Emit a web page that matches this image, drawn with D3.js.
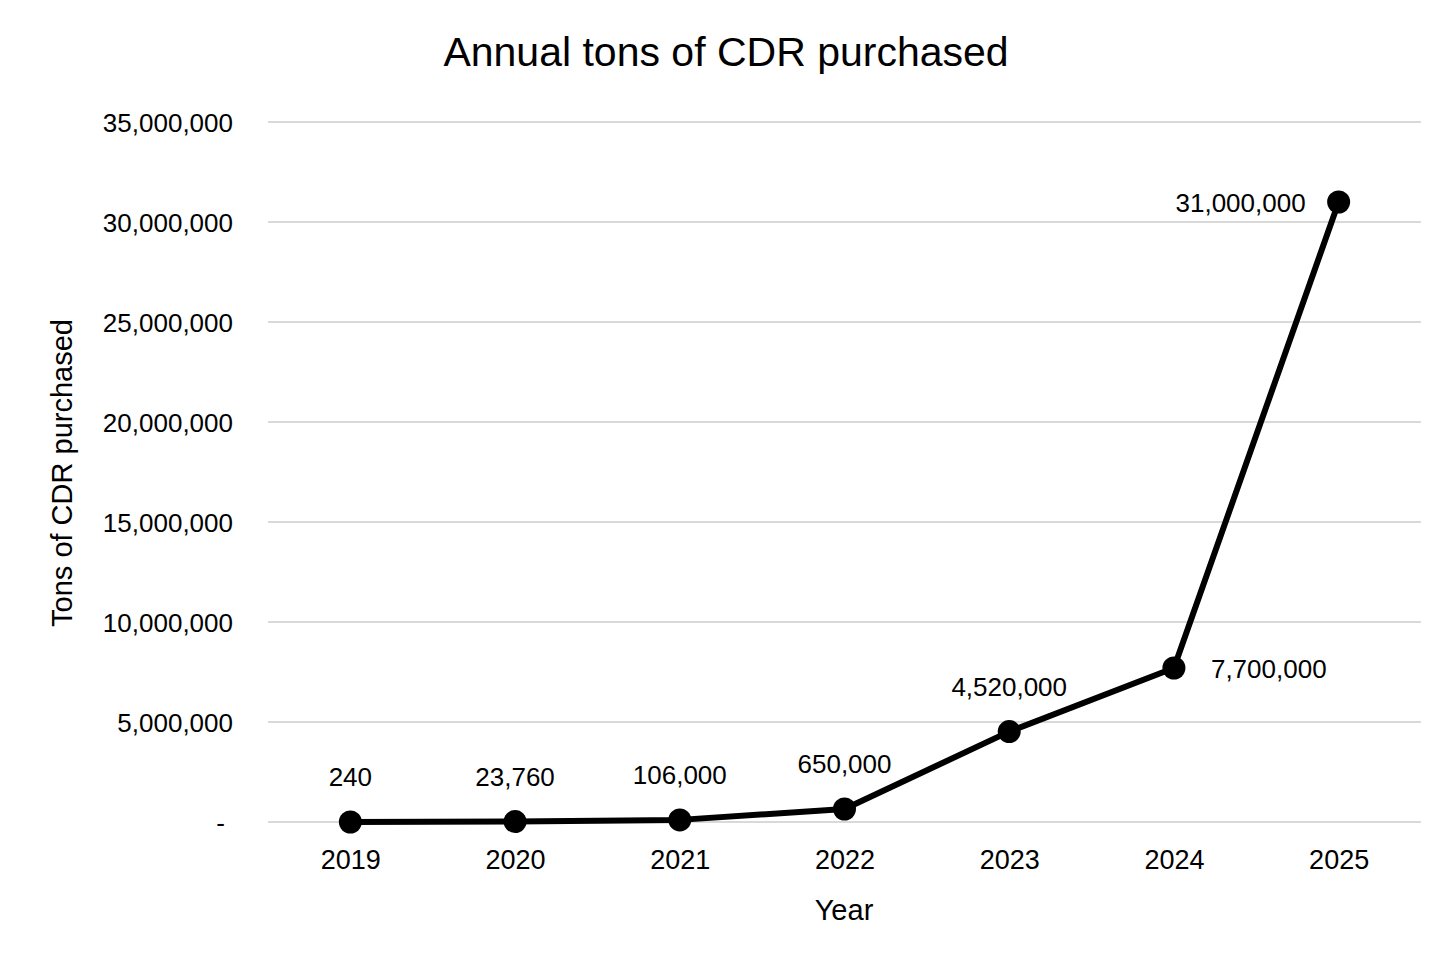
<!DOCTYPE html>
<html>
<head>
<meta charset="utf-8">
<script src="https://cdn.jsdelivr.net/npm/d3@7"></script>
<style>
  body { margin: 0; background: #fff; }
  text { font-family: "Liberation Sans", Arial, sans-serif; fill: #000; }
</style>
</head>
<body>
<svg width="1456" height="971"></svg>
<script>
var years = ["2019", "2020", "2021", "2022", "2023", "2024", "2025"];
var tons = [240, 23760, 106000, 650000, 4520000, 7700000, 31000000];
var yTicks = [0, 5000000, 10000000, 15000000, 20000000, 25000000, 30000000, 35000000];
// where each data label sits relative to its point
var labelPos = ["top", "top", "top", "top", "top", "right", "left"];

var svgWidth = 1456, svgHeight = 971;
var plotLeft = 268, plotRight = 1421, plotTop = 122, plotBottom = 822;

var svg = d3.select("svg")
    .attr("width", svgWidth)
    .attr("height", svgHeight);

var x = d3.scalePoint()
    .domain(years)
    .range([plotLeft, plotRight])
    .padding(0.5);

var y = d3.scaleLinear()
    .domain([0, 35000000])
    .range([plotBottom, plotTop]);

var fmt = d3.format(",");

// gridlines
svg.append("g")
    .selectAll("line")
    .data(yTicks)
    .enter()
    .append("line")
    .attr("x1", plotLeft)
    .attr("x2", plotRight)
    .attr("y1", function(d) { return y(d); })
    .attr("y2", function(d) { return y(d); })
    .attr("stroke", "#d9d9d9")
    .attr("stroke-width", 2);

// y axis labels
var yAxis = d3.axisLeft(y)
    .tickValues(yTicks)
    .tickSize(0)
    .tickPadding(0)
    .tickFormat(function(d) { return d === 0 ? "-" : fmt(d); });

var gy = svg.append("g")
    .attr("transform", "translate(233,0)")
    .call(yAxis);
gy.select(".domain").remove();
gy.selectAll("text")
    .style("font-size", "26px")
    .attr("dy", "0.35em")
    .attr("dx", function(d) { return d === 0 ? "-8px" : "0"; });

// x axis labels
var xAxis = d3.axisBottom(x).tickSize(0).tickPadding(0);
var gx = svg.append("g")
    .attr("transform", "translate(0,860)")
    .call(xAxis);
gx.select(".domain").remove();
gx.selectAll("text")
    .style("font-size", "27px")
    .attr("y", 0)
    .attr("dy", "0.35em");

// line
var line = d3.line()
    .x(function(d, i) { return x(years[i]); })
    .y(function(d) { return y(d); });

svg.append("path")
    .datum(tons)
    .attr("d", line)
    .attr("fill", "none")
    .attr("stroke", "#000")
    .attr("stroke-width", 6)
    .attr("stroke-linejoin", "round");

svg.selectAll("circle")
    .data(tons)
    .enter()
    .append("circle")
    .attr("cx", function(d, i) { return x(years[i]); })
    .attr("cy", function(d) { return y(d); })
    .attr("r", 11.5)
    .attr("fill", "#000");

// data labels
svg.append("g")
    .selectAll("text")
    .data(tons)
    .enter()
    .append("text")
    .text(function(d) { return fmt(d); })
    .style("font-size", "26px")
    .attr("x", function(d, i) {
        var p = labelPos[i];
        if (p === "right") return x(years[i]) + 37;
        if (p === "left") return x(years[i]) - 33;
        return x(years[i]);
    })
    .attr("y", function(d, i) {
        return labelPos[i] === "top" ? y(d) - 45 : y(d) + 1;
    })
    .attr("dy", "0.35em")
    .attr("text-anchor", function(d, i) {
        var p = labelPos[i];
        return p === "right" ? "start" : p === "left" ? "end" : "middle";
    });

// titles
svg.append("text")
    .text("Annual tons of CDR purchased")
    .attr("x", 726)
    .attr("y", 52)
    .attr("dy", "0.35em")
    .attr("text-anchor", "middle")
    .style("font-size", "41px");

svg.append("text")
    .text("Year")
    .attr("x", 844)
    .attr("y", 910)
    .attr("dy", "0.35em")
    .attr("text-anchor", "middle")
    .style("font-size", "29px");

svg.append("text")
    .text("Tons of CDR purchased")
    .attr("transform", "translate(62,473) rotate(-90)")
    .attr("dy", "0.35em")
    .attr("text-anchor", "middle")
    .style("font-size", "29px");
</script>
</body>
</html>
